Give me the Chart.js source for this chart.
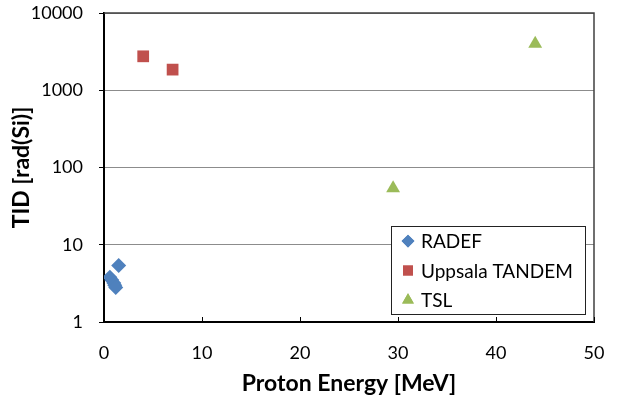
<!DOCTYPE html>
<html>
<head>
<meta charset="utf-8">
<script src="https://cdn.jsdelivr.net/npm/chart.js@4/dist/chart.umd.min.js"></script>
<style>
  html, body { margin: 0; padding: 0; background: #fff; }
  #wrap { width: 619px; height: 402px; position: relative; }
</style>
</head>
<body>
<div id="wrap"><canvas id="myChart"></canvas></div>
<script>
// data
var radefEnergy = [0.6, 0.8, 1.0, 1.1, 1.2, 1.5];
var radefTid = [3.8, 3.5, 3.2, 3.0, 2.8, 5.4];
var uppsalaEnergy = [4, 7];
var uppsalaTid = [2750, 1850];
var tslEnergy = [29.5, 44];
var tslTid = [54, 4000];
var yTicks = [1, 10, 100, 1000, 10000];
var xTicks = [0, 10, 20, 30, 40, 50];

function toPoints(xs, ys) {
  return xs.map(function(x, i) { return {x: x, y: ys[i]}; });
}

var fontFamily = 'Lato, "Open Sans", sans-serif';

// plot frame, inner x ticks and the legend box inside the plot
var framePlugin = {
  id: 'frame',
  afterDraw: function(chart) {
    let ctx = chart.ctx;
    let a = chart.chartArea;
    ctx.save();
    ctx.strokeStyle = '#404040';
    ctx.lineWidth = 1.5;
    ctx.beginPath();
    ctx.moveTo(a.left, a.top);
    ctx.lineTo(a.right, a.top);
    ctx.lineTo(a.right, a.bottom);
    ctx.stroke();

    let xs = chart.scales.x;
    ctx.strokeStyle = '#000';
    ctx.lineWidth = 1;
    xs.ticks.forEach(function(t) {
      let px = Math.round(xs.getPixelForValue(t.value)) + 0.5;
      ctx.beginPath();
      ctx.moveTo(px, a.bottom);
      ctx.lineTo(px, a.bottom - 5);
      ctx.stroke();
    });

    // legend
    let lx = 391, ly = 226, lw = 194, lh = 88;
    ctx.fillStyle = '#fff';
    ctx.fillRect(lx, ly, lw, lh);
    ctx.strokeStyle = '#222';
    ctx.lineWidth = 1;
    ctx.strokeRect(lx + 0.5, ly + 0.5, lw, lh);
    ctx.font = '19px ' + fontFamily;
    ctx.textBaseline = 'middle';
    chart.data.datasets.forEach(function(ds, i) {
      let rowY = ly + 15 + i * 29.5;
      ctx.fillStyle = ds.backgroundColor;
      ctx.beginPath();
      Chart.helpers.drawPoint(ctx, {
        pointStyle: ds.pointStyle,
        radius: ds.pointRadius * 0.85,
        rotation: 0,
        borderWidth: 0
      }, lx + 17, rowY);
      ctx.fill();
      ctx.fillStyle = '#000';
      ctx.fillText(ds.label, lx + 30, rowY + 1);
    });
    ctx.restore();
  }
};

var ctx = document.getElementById('myChart');
var myChart = new Chart(ctx, {
  type: 'scatter',
  data: {
    datasets: [{
      label: 'RADEF',
      data: toPoints(radefEnergy, radefTid),
      pointStyle: 'rectRot',
      pointRadius: 7.5,
      backgroundColor: '#4F81BD',
      borderColor: '#4F81BD',
      borderWidth: 0
    }, {
      label: 'Uppsala TANDEM',
      data: toPoints(uppsalaEnergy, uppsalaTid),
      pointStyle: 'rect',
      pointRadius: 8.3,
      backgroundColor: '#C0504D',
      borderColor: '#C0504D',
      borderWidth: 0
    }, {
      label: 'TSL',
      data: toPoints(tslEnergy, tslTid),
      pointStyle: 'triangle',
      pointRadius: 8,
      backgroundColor: '#9BBB59',
      borderColor: '#9BBB59',
      borderWidth: 0
    }]
  },
  options: {
    responsive: true,
    maintainAspectRatio: false,
    animation: false,
    events: [],
    layout: { padding: { top: 13, right: 25, left: 0, bottom: 0 } },
    plugins: {
      legend: { display: false },
      tooltip: { enabled: false }
    },
    scales: {
      x: {
        type: 'linear',
        min: 0,
        max: 50,
        afterFit: function(scale) {
          scale.height = 80;
          scale.paddingLeft = 0;
          scale.paddingRight = 0;
        },
        afterBuildTicks: function(scale) {
          scale.ticks = xTicks.map(function(v) { return {value: v}; });
        },
        ticks: {
          color: '#000',
          padding: 20,
          font: { family: fontFamily, size: 18 },
          maxRotation: 0
        },
        grid: { display: false, drawTicks: false },
        border: { display: true, color: '#000', width: 2 },
        title: {
          display: true,
          text: 'Proton Energy [MeV]',
          color: '#000',
          font: { family: fontFamily, size: 23, weight: 'bold' },
          padding: { top: 0, bottom: 5 }
        }
      },
      y: {
        type: 'logarithmic',
        min: 1,
        max: 10000,
        afterFit: function(scale) {
          scale.width = 104;
          scale.paddingTop = 0;
          scale.paddingBottom = 0;
        },
        afterBuildTicks: function(scale) {
          scale.ticks = yTicks.map(function(v) { return {value: v}; });
        },
        ticks: {
          color: '#000',
          padding: 16,
          font: { family: fontFamily, size: 18 },
          callback: function(value) { return String(value); }
        },
        grid: {
          color: '#8c8c8c',
          lineWidth: 1,
          tickColor: '#000',
          tickLength: 5,
          drawTicks: true
        },
        border: { display: true, color: '#000', width: 2 },
        title: {
          display: true,
          text: 'TID [rad(Si)]',
          color: '#000',
          font: { family: fontFamily, size: 23, weight: 'bold' },
          padding: { top: 8, bottom: 0 }
        }
      }
    }
  },
  plugins: [framePlugin]
});
</script>
</body>
</html>
